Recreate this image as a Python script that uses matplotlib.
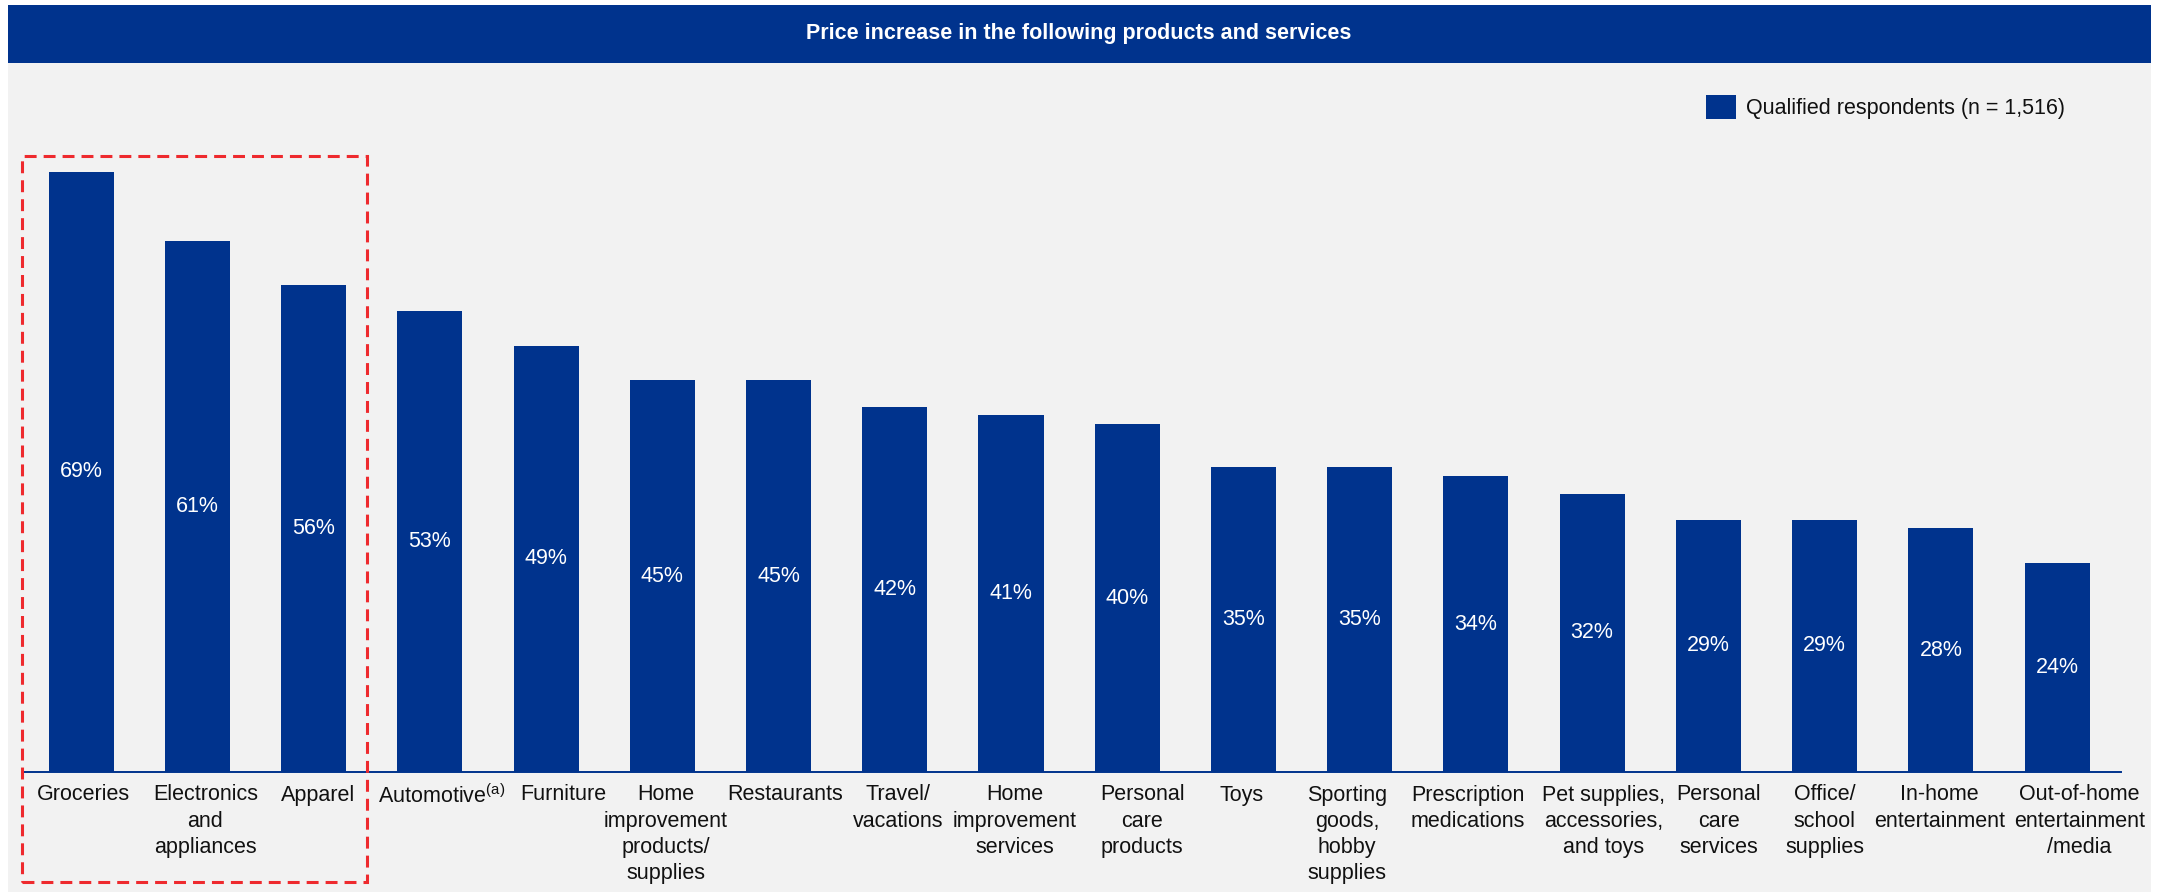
import matplotlib
matplotlib.use("Agg")
import matplotlib.pyplot as plt
from matplotlib.patches import Rectangle, Patch

plt.rcParams['font.family'] = ['Liberation Sans', 'DejaVu Sans']
plt.rcParams['mathtext.fontset'] = 'custom'
plt.rcParams['mathtext.rm'] = 'Liberation Sans'
plt.rcParams['mathtext.it'] = 'Liberation Sans:italic'

# Survey data: share of respondents seeing a price increase
categories = [
    "Groceries", "Electronics\nand\nappliances", "Apparel",
    "Automotive$^{\\mathrm{(a)}}$", "Furniture",
    "Home\nimprovement\nproducts/\nsupplies", "Restaurants",
    "Travel/\nvacations", "Home\nimprovement\nservices",
    "Personal\ncare\nproducts", "Toys", "Sporting\ngoods,\nhobby\nsupplies",
    "Prescription\nmedications", "Pet supplies,\naccessories,\nand toys",
    "Personal\ncare\nservices", "Office/\nschool\nsupplies",
    "In-home\nentertainment", "Out-of-home\nentertainment\n/media",
]
values = [69, 61, 56, 53, 49, 45, 45, 42, 41, 40, 35, 35, 34, 32, 29, 29, 28, 24]
series_name = "Qualified respondents (n = 1,516)"
title = "Price increase in the following products and services"

# horizontal nudge of each category label, in bar-slot units
label_shift = [0.02, 0.07, 0.04, 0.10, 0.15, 0.03, 0.06, 0.03, 0.03,
               0.13, -0.02, -0.11, -0.07, 0.10, 0.09, 0.0, -0.01, 0.19]

BLUE = "#00338D"
PANEL = "#F2F2F2"
RED = "#EE2A2E"
FS = 15.5

W, H = 2162, 892
fig = plt.figure(figsize=(W / 100, H / 100), dpi=100, facecolor="white")

# grey panel and blue header band
fig.patches.append(Rectangle((8 / W, 0), (2151 - 8) / W, (892 - 63) / H,
                             transform=fig.transFigure, facecolor=PANEL,
                             edgecolor="none", zorder=0))
fig.patches.append(Rectangle((8 / W, 1 - 63 / H), (2151 - 8) / W, 58 / H,
                             transform=fig.transFigure, facecolor=BLUE,
                             edgecolor="none", zorder=0))
fig.text(1079 / W, 1 - 34 / H, title, color="white", fontsize=FS,
         fontweight="bold", ha="center", va="center")

ax = fig.add_axes([23 / W, 120 / H, 2098 / W, 696 / H])
ax.set_zorder(2)
ax.set_facecolor("none")

x = list(range(len(values)))
bars = ax.bar(x, values, width=0.56, color=BLUE, label=series_name, zorder=2)

for b, v in zip(bars, values):
    ax.text(b.get_x() + b.get_width() / 2, v / 2, f"{v}%", color="white",
            fontsize=FS, ha="center", va="center", zorder=3)

ax.set_xlim(-0.5, 17.55)
ax.set_ylim(0, 80)
ax.set_yticks([])
ax.set_xticks([i + d for i, d in zip(x, label_shift)])
ax.set_xticklabels(categories, fontsize=FS, color="#111111", linespacing=1.33)
ax.tick_params(axis="x", length=0, pad=9)
for s in ["top", "right", "left"]:
    ax.spines[s].set_visible(False)
ax.spines["bottom"].set_color(BLUE)
ax.spines["bottom"].set_linewidth(1.4)

leg = fig.legend(handles=[Patch(facecolor=BLUE, edgecolor="none")],
                 labels=[series_name], loc="center left",
                 bbox_to_anchor=(1695 / W, 1 - 107 / H), frameon=False,
                 fontsize=FS, borderpad=0, handlelength=1.4,
                 handleheight=1.4, handletextpad=0.48, labelcolor="#111111")
leg.set_zorder(3)

# dashed highlight around the top three categories
fig.patches.append(Rectangle((22 / W, 10 / H), 345 / W, 726 / H,
                             transform=fig.transFigure, facecolor="none",
                             edgecolor=RED, linewidth=2.2,
                             linestyle=(0, (3.9, 2.3)), zorder=5))

fig.savefig("out.png", dpi=100, facecolor="white")
